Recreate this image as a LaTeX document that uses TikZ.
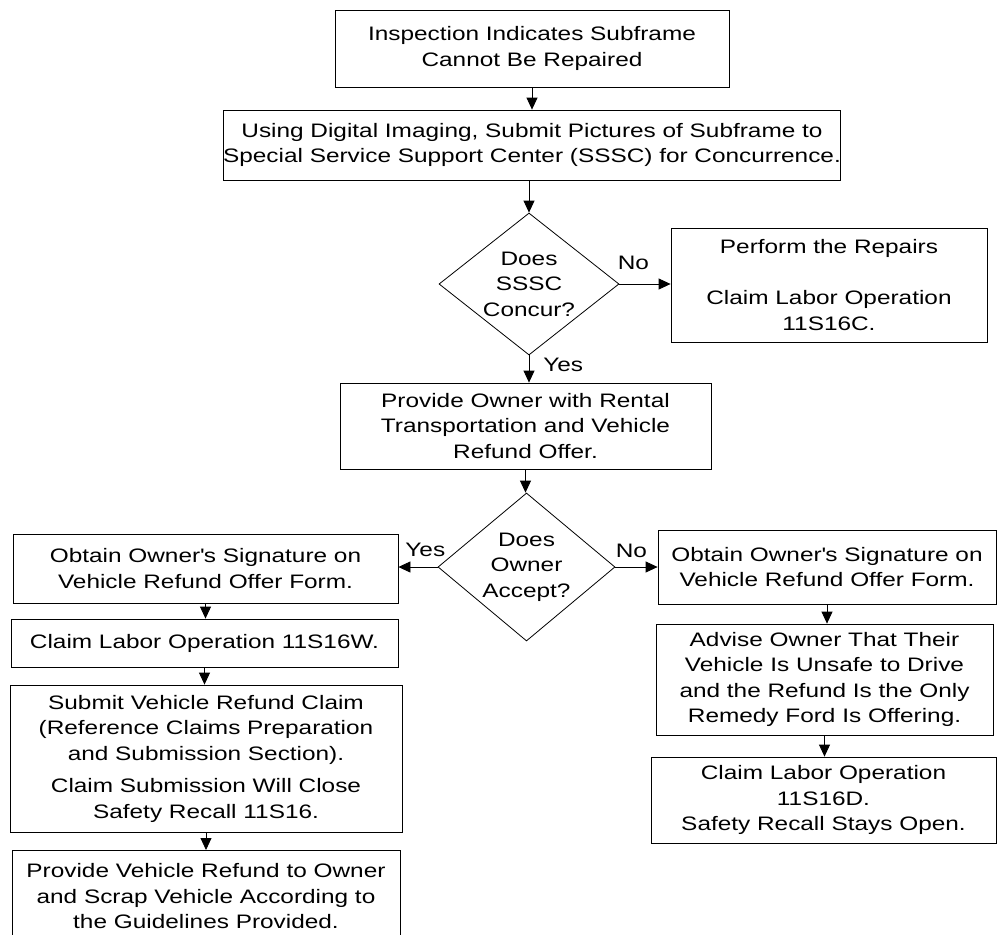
\documentclass[tikz,border=0pt]{standalone}
\usepackage{fontspec}
\setmainfont{Liberation Sans}[FakeStretch=1.25]
\usetikzlibrary{shapes.geometric,arrows.meta}

\begin{document}
\begin{tikzpicture}[x=1pt,y=-1pt,
    every node/.style={font=\fontsize{19.5}{25.5}\selectfont},
    box/.style={draw,line width=0.8pt,align=center,inner sep=0pt},
    decision/.style={draw,shape=diamond,aspect=1.27,line width=0.8pt,align=center,inner sep=0pt},
    arr/.style={line width=0.8pt,-{Triangle[length=12pt,width=11pt]}},
    lbl/.style={inner sep=0pt}]
    \useasboundingbox (0,0) rectangle (997,935);
    \node[box,minimum width=394pt,minimum height=77pt] (inspect) at (532,48.5)
      {Inspection Indicates Subframe\\Cannot Be Repaired};
    \node[box,minimum width=612pt,minimum height=70pt] (submit) at (532,145)
      {Using Digital Imaging, Submit Pictures of Subframe to\\Special Service Support Center (SSSC) for Concurrence.};
    \node[decision,minimum width=180pt,minimum height=142pt] (concur) at (529,284)
      {Does\\SSSC\\Concur?};
    \node[box,minimum width=316pt,minimum height=114pt] (repair) at (829,285)
      {Perform the Repairs\\[25.5pt]Claim Labor Operation\\11S16C.};
    \node[box,minimum width=371pt,minimum height=86pt] (rental) at (525.5,426)
      {Provide Owner with Rental\\Transportation and Vehicle\\Refund Offer.};
    \node[decision,minimum width=177pt,minimum height=148pt] (accept) at (526.5,567)
      {Does\\Owner\\Accept?};
    % yes side
    \node[box,minimum width=385pt,minimum height=69pt] (signL) at (205.5,568.5)
      {Obtain Owner\textquotesingle s Signature on\\Vehicle Refund Offer Form.};
    \node[box,minimum width=387pt,minimum height=48pt] (labourW) at (204.5,643)
      {Claim Labor Operation 11S16W.};
    \node[box,minimum width=392pt,minimum height=147pt] (claim) at (206,758.5)
      {Submit Vehicle Refund Claim\\(Reference Claims Preparation\\and Submission Section).\\[7pt]Claim Submission Will Close\\Safety Recall 11S16.};
    \node[box,minimum width=388pt,minimum height=92pt,anchor=north] (scrap) at (206,850)
      {Provide Vehicle Refund to Owner\\and Scrap Vehicle According to\\the Guidelines Provided.};
    % no side
    \node[box,minimum width=338pt,minimum height=74pt] (signR) at (827,567)
      {Obtain Owner\textquotesingle s Signature on\\Vehicle Refund Offer Form.};
    \node[box,minimum width=337pt,minimum height=111pt] (advise) at (824.5,679.5)
      {Advise Owner That Their\\Vehicle Is Unsafe to Drive\\and the Refund Is the Only\\Remedy Ford Is Offering.};
    \node[box,minimum width=345pt,minimum height=86pt] (labourD) at (823.5,800)
      {Claim Labor Operation\\11S16D.\\Safety Recall Stays Open.};

    \foreach \a/\b in {inspect/submit,signL/labourW,labourW/claim,claim/scrap,signR/advise,advise/labourD}
    \draw[arr] (\a.south) -- (\a.south |- \b.north);
    \draw[arr] (submit.south -| concur.north) -- (concur.north);
    \draw[arr] (concur.east) -- (concur.east -| repair.west)
    node[lbl,pos=0,anchor=south west,xshift=-2pt,yshift=14pt] {No};
    \draw[arr] (concur.south) -- (concur.south |- rental.north)
    node[lbl,pos=0,anchor=north west,xshift=14pt,yshift=-2pt] {Yes};
    \draw[arr] (rental.south) -- (rental.south |- accept.north);
    \draw[arr] (accept.west) -- (accept.west -| signL.east)
    node[lbl,pos=0,anchor=south east,xshift=8pt,yshift=10pt] {Yes};
    \draw[arr] (accept.east) -- (accept.east -| signR.west)
    node[lbl,pos=0,anchor=south west,yshift=9pt] {No};
  \end{tikzpicture}
\end{document}
